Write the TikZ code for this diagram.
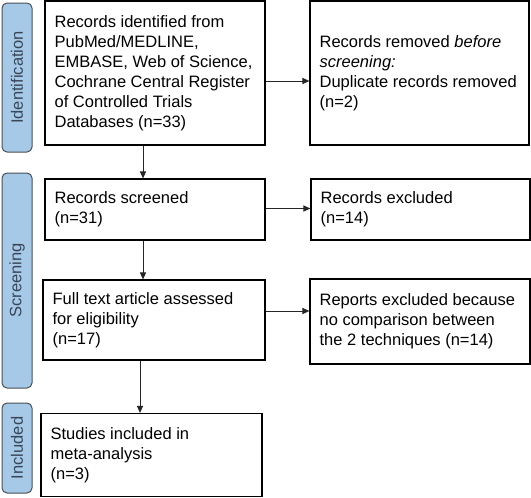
\documentclass[tikz,border=0pt]{standalone}
\usepackage{fontspec}
\setmainfont{Liberation Sans}
\usetikzlibrary{arrows.meta}
\definecolor{barfill}{HTML}{A6C9E8}
\definecolor{barline}{HTML}{4A4F55}
\definecolor{bartext}{HTML}{3A4656}
\tikzset{
  x=1pt, y=-1pt,
  boxnode/.style={draw=black, line width=1.1pt, rectangle, inner sep=0pt},
  boxtext/.style={inner sep=0pt, anchor=west, align=left,
    font=\fontsize{16.5}{20}\selectfont},
  barnode/.style={draw=barline, fill=barfill, line width=1pt, rounded corners=5pt,
    rectangle, inner sep=0pt, minimum width=30pt},
  bartextnode/.style={rotate=90, font=\fontsize{16.5}{20}\selectfont, text=bartext},
  arr/.style={draw=black!85, line width=1pt, -{Triangle[length=7pt,width=6pt]}}
}
\newcommand{\mybox}[6]{% name, cx, cy, w, h, text
  \node[boxnode, minimum width=#4pt, minimum height=#5pt] (#1) at (#2,#3) {};
  \node[boxtext] (#1t) at ([xshift=10pt]#1.west) {#6};}
\begin{document}
\begin{tikzpicture}
\useasboundingbox (0,0) rectangle (531,498);
% side bars
\node[barnode, minimum height=149pt] (bid) at (17,77.5) {};
\node[bartextnode] (lid) at (bid.center) {Identification};
\node[barnode, minimum height=215pt] (bsc) at (17,280.5) {};
\node[bartextnode] (lsc) at (bsc.center) {Screening};
\node[barnode, minimum height=90pt] (bin) at (17,448) {};
\node[bartextnode] (lin) at (bin.center) {Included};
% boxes
\mybox{b1}{155}{73}{220}{144}{Records identified from\\PubMed/MEDLINE,\\EMBASE, Web of Science,\\Cochrane Central Register\\of Controlled Trials\\Databases (n=33)}
\mybox{b2}{155}{209.5}{220}{61}{Records screened\\(n=31)}
\mybox{b3}{154}{320}{222}{80}{Full text article assessed\\for eligibility\\(n=17)}
\mybox{b4}{151.5}{455}{221}{83}{Studies included in\\meta-analysis\\(n=3)}
\mybox{r1}{419.5}{73}{219}{144}{Records removed \emph{before}\\\emph{screening:}\\Duplicate records removed\\(n=2)}
\mybox{r2}{420.5}{209.5}{219}{61}{Records excluded\\(n=14)}
\mybox{r3}{420}{321.5}{220}{85}{Reports excluded because\\no comparison between\\the 2 techniques (n=14)}
% vertical arrows
\coordinate (v1) at ([xshift=-12pt]b1.south);
\draw[arr] (v1) -- (v1 |- b2.north);
\coordinate (v2) at ([xshift=-12pt]b2.south);
\draw[arr] (v2) -- (v2 |- b3.north);
\coordinate (v3) at ([xshift=-14pt]b3.south);
\draw[arr] (v3) -- (v3 |- b4.north);
% horizontal arrows
\coordinate (h1) at ([yshift=-8pt]b1.east);
\draw[arr] (h1) -- (h1 -| r1.west);
\coordinate (h2) at ([yshift=1pt]b2.east);
\draw[arr] (h2) -- (h2 -| r2.west);
\coordinate (h3) at ([yshift=9pt]b3.east);
\draw[arr] (h3) -- (h3 -| r3.west);
\end{tikzpicture}
\end{document}
